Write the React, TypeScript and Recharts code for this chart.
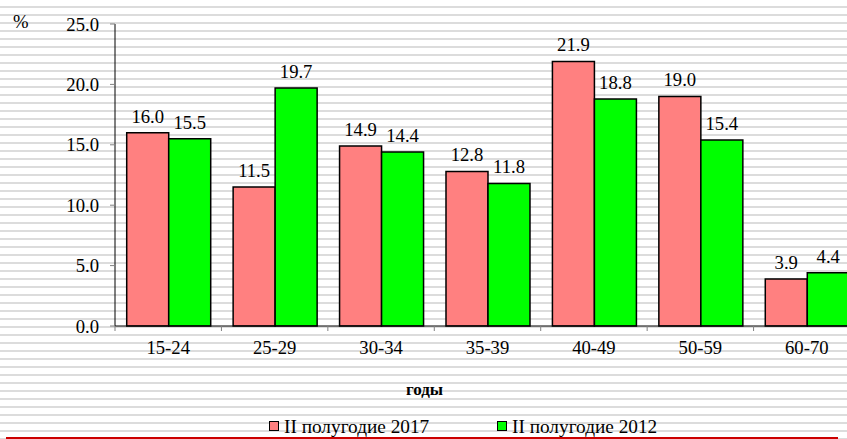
import React from 'react';
import { BarChart, Bar, XAxis, YAxis, LabelList, Legend } from 'recharts';

const categories = ['15-24', '25-29', '30-34', '35-39', '40-49', '50-59', '60-70'];
const series2017 = [16.0, 11.5, 14.9, 12.8, 21.9, 19.0, 3.9];
const series2012 = [15.5, 19.7, 14.4, 11.8, 18.8, 15.4, 4.4];
const yTicks = [0, 5, 10, 15, 20, 25];
const seriesNames = ['II полугодие 2017', 'II полугодие 2012'];
const seriesColors = ['#FF8080', '#00FF00'];

const data = categories.map((c, i) => ({ cat: c, s2017: series2017[i], s2012: series2012[i] }));

const CHART_W = 870;
const CHART_H = 439;
const M_LEFT = 55;
const M_RIGHT = 10;
const Y_W = 60;
const PLOT_W = CHART_W - M_LEFT - M_RIGHT - Y_W;
const BAND = PLOT_W / categories.length;
const FONT = 'Liberation Serif';
const FS = 18.67;

const XTick = (props: any) => {
  const { x, y, payload, index } = props;
  const half = BAND / 2;
  return (
    <g>
      <line x1={x - half} x2={x - half} y1={y} y2={y + 5} stroke="#808080" strokeWidth={1} />
      {index === categories.length - 1 && (
        <line x1={x + half} x2={x + half} y1={y} y2={y + 5} stroke="#808080" strokeWidth={1} />
      )}
      <text x={x} y={y + 28} textAnchor="middle" fontSize={FS} fill="#000" fontFamily={FONT}>
        {payload.value}
      </text>
    </g>
  );
};

const XLabel = (props: any) => {
  const { viewBox } = props;
  return (
    <text x={viewBox.x + 309.5} y={viewBox.y + 69} textAnchor="middle" fontSize={17} fontWeight="bold" fill="#000" fontFamily={FONT}>
      годы
    </text>
  );
};

const YLabel = (props: any) => {
  const { viewBox } = props;
  return (
    <text x={viewBox.x - 42} y={viewBox.y + 4} fontSize={FS} fill="#000" fontFamily={FONT}>
      %
    </text>
  );
};

const LegendContent = () => {
  const lefts = [269, 497];
  return (
    <div style={{ position: 'relative', width: 847, height: 24, fontFamily: FONT, fontSize: 19.3, color: '#000' }}>
      {seriesNames.map((n, i) => (
        <React.Fragment key={n}>
          <span
            style={{
              position: 'absolute',
              left: lefts[i],
              top: 6,
              width: 8,
              height: 8,
              border: '1px solid #000',
              background: seriesColors[i],
            }}
          />
          <span style={{ position: 'absolute', left: lefts[i] + 15, top: 0, lineHeight: '24px', whiteSpace: 'nowrap' }}>
            {n}
          </span>
        </React.Fragment>
      ))}
    </div>
  );
};

const fmt = (v: any) => Number(v).toFixed(1);

export default function App() {
  return (
    <div
      style={{
        position: 'absolute',
        left: 0,
        top: 0,
        width: 847,
        height: 439,
        overflow: 'hidden',
        fontFamily: FONT,
        background:
          'repeating-linear-gradient(to bottom, #ffffff 0px, #ffffff 6px, #dcdcdc 6px, #dcdcdc 8px)',
      }}
    >
      <BarChart
        width={CHART_W}
        height={CHART_H}
        data={data}
        margin={{ top: 24, right: M_RIGHT, left: M_LEFT, bottom: 0 }}
        barCategoryGap="11%"
        barGap={0}
        style={{ fontFamily: FONT }}
      >
        <XAxis
          dataKey="cat"
          interval={0}
          height={89}
          tickSize={0}
          tickMargin={0}
          tickLine={false}
          axisLine={{ stroke: '#000', strokeWidth: 1 }}
          tick={<XTick />}
          label={<XLabel />}
        />
        <YAxis
          width={Y_W}
          domain={[0, 25]}
          ticks={yTicks}
          tickFormatter={fmt}
          tickSize={5}
          tickMargin={11}
          tickLine={{ stroke: '#808080' }}
          axisLine={{ stroke: '#000', strokeWidth: 1 }}
          tick={{ fontSize: FS, fill: '#000', fontFamily: FONT }}
          label={<YLabel />}
        />
        <Legend
          verticalAlign="bottom"
          content={<LegendContent />}
          wrapperStyle={{ left: 0, width: 847, height: 24 }}
        />
        <Bar dataKey="s2017" name={seriesNames[0]} fill={seriesColors[0]} stroke="#000" strokeWidth={1.5} isAnimationActive={false}>
          <LabelList dataKey="s2017" position="top" offset={10} formatter={fmt} fontFamily={FONT} fontSize={FS} fill="#000" />
        </Bar>
        <Bar dataKey="s2012" name={seriesNames[1]} fill={seriesColors[1]} stroke="#000" strokeWidth={1.5} isAnimationActive={false}>
          <LabelList dataKey="s2012" position="top" offset={10} formatter={fmt} fontFamily={FONT} fontSize={FS} fill="#000" />
        </Bar>
      </BarChart>
      <div style={{ position: 'absolute', left: 6, top: 437, width: 832, height: 2, background: '#cc0000' }} />
    </div>
  );
}
